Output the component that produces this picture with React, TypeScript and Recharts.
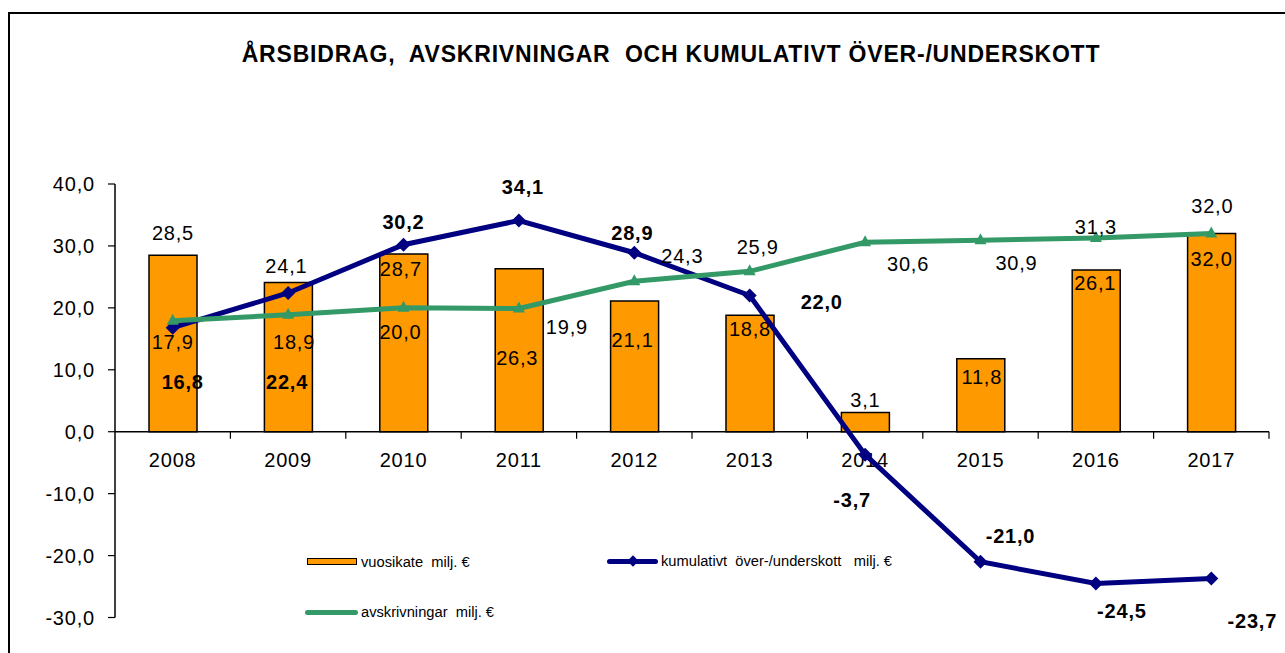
import React from "react";
import { Bar, ComposedChart, LabelList, Line, ReferenceLine, XAxis, YAxis } from "recharts";

const categories = ["2008", "2009", "2010", "2011", "2012", "2013", "2014", "2015", "2016", "2017"];
const vuosikate = [28.5, 24.1, 28.7, 26.3, 21.1, 18.8, 3.1, 11.8, 26.1, 32.0];
const kumulativt = [16.8, 22.4, 30.2, 34.1, 28.9, 22.0, -3.7, -21.0, -24.5, -23.7];
const avskrivningar = [17.9, 18.9, 20.0, 19.9, 24.3, 25.9, 30.6, 30.9, 31.3, 32.0];
const yTicks = [-30, -20, -10, 0, 10, 20, 30, 40];

const TITLE = "ÅRSBIDRAG,  AVSKRIVNINGAR  OCH KUMULATIVT ÖVER-/UNDERSKOTT";
const NAME_BAR = "vuosikate  milj. €";
const NAME_CUM = "kumulativt  över-/underskott   milj. €";
const NAME_DEP = "avskrivningar  milj. €";

// label offsets (dx, dy) from the anchor point, hand placed like in the original
const barLabelOffsets = [[0, -22], [-2, -16], [-3, 15], [-2, 89], [-2, 39], [0, 14], [0, -13], [1, 18], [-1, 13], [0, 25]];
const cumLabelOffsets = [[10, 54], [-1, 89], [0, -23], [4, -34], [-2, -20], [72, 7], [-13, 45], [30, -26], [26, 28], [41, 43]];
const depLabelOffsets = [[0, 21], [6, 27], [-3, 24], [48, 19], [48, -25], [8, -24], [43, 22], [36, 23], [0, -11], [1, -28]];

const ORANGE = "#FF9900";
const NAVY = "#000080";
const GREEN = "#339966";
const FONT = "'Liberation Sans', Arial, sans-serif";
const FS = 20;
const LS = 0.8;

const fmt = (v: number) => v.toFixed(1).replace(".", ",");

const data = categories.map((year, i) => ({
  year,
  vuosikate: vuosikate[i],
  kumulativt: kumulativt[i],
  avskrivningar: avskrivningar[i],
}));

function makeLabel(offsets: number[][], bold: boolean, isBar: boolean) {
  return (props: any) => {
    const { x, y, width, value, index } = props;
    const i = index ?? 0;
    const [dx, dy] = offsets[i] || [0, 0];
    const cx = isBar ? Number(x) + Number(width) / 2 : Number(x);
    return (
      <text
        x={cx + dx}
        y={Number(y) + dy}
        textAnchor="middle"
        dominantBaseline="central"
        fontSize={FS}
        letterSpacing={LS}
        fontWeight={bold ? "bold" : "normal"}
        fontFamily={FONT}
        fill="#000"
      >
        {fmt(Number(value))}
      </text>
    );
  };
}

const Diamond = (p: any) => {
  const { cx, cy } = p;
  if (cx == null || cy == null) return <g />;
  const r = 7;
  return <polygon points={`${cx},${cy - r} ${cx + r},${cy} ${cx},${cy + r} ${cx - r},${cy}`} fill={NAVY} />;
};

const Triangle = (p: any) => {
  const { cx, cy } = p;
  if (cx == null || cy == null) return <g />;
  return <polygon points={`${cx},${cy - 7} ${cx + 6},${cy + 4} ${cx - 6},${cy + 4}`} fill={GREEN} />;
};

// x axis crosses at zero, so it is drawn on the zero reference line
const ZeroAxis = (p: any) => {
  const { x1, y1, x2 } = p;
  const step = (x2 - x1) / categories.length;
  return (
    <g>
      <line x1={x1} y1={y1} x2={x2} y2={y1} stroke="#000" strokeWidth={1.5} />
      {categories.map((_, i) => (
        <line key={"t" + i} x1={x1 + step * (i + 1)} y1={y1} x2={x1 + step * (i + 1)} y2={y1 + 7} stroke="#000" strokeWidth={1.2} />
      ))}
      {categories.map((c, i) => (
        <text
          key={c}
          x={x1 + step * (i + 0.5)}
          y={y1 + 28}
          textAnchor="middle"
          dominantBaseline="central"
          fontSize={FS}
          letterSpacing={LS}
          fontFamily={FONT}
          fill="#000"
        >
          {c}
        </text>
      ))}
    </g>
  );
};

function LegendBox() {
  const txt: React.CSSProperties = { position: "absolute", fontFamily: FONT, fontSize: 14.7, whiteSpace: "pre", lineHeight: "16px" };
  return (
    <>
      <div style={{ position: "absolute", left: 307, top: 558, width: 48, height: 5, background: ORANGE, border: "1.5px solid #000" }} />
      <div style={{ ...txt, left: 361, top: 554 }}>{NAME_BAR}</div>
      <div style={{ position: "absolute", left: 607, top: 559, width: 51, height: 5, background: NAVY, borderRadius: 3 }} />
      <div style={{ position: "absolute", left: 629, top: 557, width: 8, height: 8, background: NAVY, transform: "rotate(45deg)" }} />
      <div style={{ ...txt, left: 661, top: 553 }}>{NAME_CUM}</div>
      <div style={{ position: "absolute", left: 305, top: 610, width: 53, height: 5, background: GREEN, borderRadius: 3 }} />
      <div style={{ ...txt, left: 361, top: 604 }}>{NAME_DEP}</div>
    </>
  );
}

export default function App() {
  return (
    <div style={{ position: "absolute", left: 0, top: 0, width: 1285, height: 653, overflow: "hidden", background: "#fff" }}>
      <div style={{ position: "absolute", left: 8, top: 12, width: 1300, height: 700, borderTop: "2px solid #000", borderLeft: "2px solid #000" }} />
      <div
        style={{
          position: "absolute",
          left: 0,
          width: 1342,
          top: 41,
          textAlign: "center",
          fontFamily: FONT,
          fontWeight: "bold",
          fontSize: 23,
          letterSpacing: 0.8,
          whiteSpace: "pre",
        }}
      >
        {TITLE}
      </div>
      <div style={{ position: "absolute", left: 0, top: 0 }}>
        <ComposedChart width={1285} height={653} data={data} margin={{ top: 184, right: 16, bottom: 35.5, left: 0 }}>
          <XAxis dataKey="year" hide />
          <YAxis
            domain={[-30, 40]}
            ticks={yTicks}
            interval={0}
            tickFormatter={fmt}
            width={115}
            axisLine={{ stroke: "#000", strokeWidth: 1.5 }}
            tickLine={{ stroke: "#000", strokeWidth: 1.2 }}
            tickSize={7}
            tickMargin={13}
            tick={{ fill: "#000", fontSize: FS, fontFamily: FONT, letterSpacing: LS }}
            allowDataOverflow
          />
          <Bar dataKey="vuosikate" fill={ORANGE} stroke="#000" strokeWidth={1.5} barSize={48} isAnimationActive={false}>
            <LabelList dataKey="vuosikate" content={makeLabel(barLabelOffsets, false, true)} />
          </Bar>
          <ReferenceLine y={0} shape={ZeroAxis} />
          <Line
            dataKey="kumulativt"
            stroke={NAVY}
            strokeWidth={5}
            dot={Diamond}
            activeDot={false}
            isAnimationActive={false}
          >
            <LabelList dataKey="kumulativt" content={makeLabel(cumLabelOffsets, true, false)} />
          </Line>
          <Line
            dataKey="avskrivningar"
            stroke={GREEN}
            strokeWidth={5}
            dot={Triangle}
            activeDot={false}
            isAnimationActive={false}
          >
            <LabelList dataKey="avskrivningar" content={makeLabel(depLabelOffsets, false, false)} />
          </Line>
        </ComposedChart>
      </div>
      <LegendBox />
    </div>
  );
}
